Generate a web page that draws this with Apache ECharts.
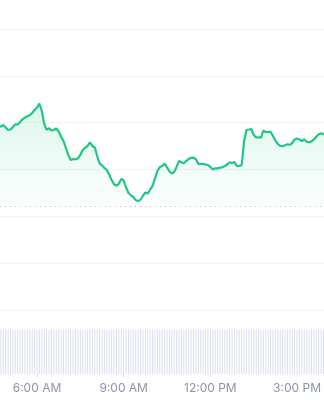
<!DOCTYPE html>
<html>
<head>
<meta charset="utf-8">
<script src="https://cdn.jsdelivr.net/npm/echarts@6/dist/echarts.min.js"></script>
<style>
html,body{margin:0;padding:0;background:#fff;}
#chart{width:324px;height:400px;}
</style>
</head>
<body>
<div id="chart"></div>
<script>
// Time of first sample (minutes after midnight) and sampling step (minutes)
const startMinute = 280;
const stepMinutes = 5;

// Price (arbitrary units; one grid line = 1 unit)
const prices = [
  3.908,3.918,3.950,3.897,3.844,3.854,3.908,3.965,3.961,4.015,
  4.072,4.106,4.138,4.158,4.207,4.271,4.324,4.405,4.249,3.972,
  3.850,3.880,3.837,3.844,3.876,3.812,3.705,3.609,3.459,3.310,
  3.203,3.224,3.218,3.235,3.310,3.417,3.466,3.502,3.577,3.502,
  3.470,3.289,3.128,3.090,3.032,2.990,2.887,2.776,2.684,2.654,
  2.695,2.797,2.765,2.616,2.498,2.449,2.413,2.345,2.328,2.353,
  2.439,2.509,2.488,2.569,2.652,2.812,2.968,3.054,3.075,3.124,
  3.047,2.958,2.915,2.951,3.060,3.182,3.150,3.135,3.186,3.224,
  3.250,3.252,3.218,3.118,3.118,3.122,3.105,3.096,3.054,3.000,
  3.026,3.026,3.039,3.047,3.075,3.107,3.156,3.139,3.160,3.069,
  3.075,3.096,3.609,3.844,3.854,3.865,3.737,3.684,3.688,3.679,
  3.833,3.797,3.801,3.807,3.716,3.620,3.545,3.502,3.498,3.519,
  3.538,3.528,3.566,3.641,3.660,3.641,3.609,3.641,3.592,3.583,
  3.600,3.641,3.705,3.752,3.773,3.752,3.748
];

// Volume (relative units)
const volumes = [
  97,96,97,96,97,97,96,97,96,97,
  97,96,97,97,96,97,96,97,97,98,
  98,97,97,96,97,97,97,96,97,97,
  97,96,97,97,97,96,97,97,97,97,
  97,96,97,97,97,97,96,97,97,97,
  96,97,97,96,97,97,97,96,97,97,
  97,96,97,97,96,97,97,97,96,97,
  97,96,97,97,96,97,97,96,97,97,
  96,97,97,96,97,97,96,97,96,97,
  97,96,97,96,97,96,97,96,97,96,
  97,96,97,97,96,97,96,97,96,97,
  96,97,96,97,96,96,97,96,97,96,
  96,97,96,96,97,96,96,97,96,96,
  97,96,96,96,97,96,96
];

// Opening reference price (dotted line)
const openPrice = 2.206;

// X tick labels (minutes after midnight) and their texts
const tickMinutes = [360, 540, 720, 900];
const tickLabels = ['6:00 AM', '9:00 AM', '12:00 PM', '3:00 PM'];

// Visible time window
const xMin = 283.2;
const xMax = 955.9;

const times = prices.map((_, i) => startMinute + i * stepMinutes);
const priceData = prices.map((v, i) => [times[i], v]);
const volumeData = volumes.map((v, i) => [times[i], v]);

const chart = echarts.init(document.getElementById('chart'), null, {renderer: 'canvas'});
chart.setOption({
  animation: false,
  backgroundColor: '#ffffff',
  textStyle: {fontFamily: 'Inter, sans-serif'},
  grid: [
    {left: 0, right: 0, top: 29, height: 281},
    {left: 0, right: 0, top: 328, bottom: 26}
  ],
  xAxis: [
    {type: 'value', gridIndex: 0, min: xMin, max: xMax, show: false},
    {
      type: 'value', gridIndex: 1, min: xMin, max: xMax,
      splitLine: {show: false},
      axisLine: {show: false},
      axisTick: {show: true, customValues: tickMinutes, length: 3, lineStyle: {color: '#e3e6ec'}},
      axisLabel: {
        customValues: tickMinutes,
        color: '#8c94a5', fontSize: 12, margin: 8,
        fontFamily: 'Inter, sans-serif',
        formatter: v => tickLabels[tickMinutes.indexOf(v)] || ''
      }
    }
  ],
  yAxis: [
    {
      type: 'value', gridIndex: 0, min: 0, max: 6, interval: 1,
      axisLabel: {show: false}, axisLine: {show: false}, axisTick: {show: false},
      splitLine: {show: true, lineStyle: {color: '#f1f2f5', width: 1}}
    },
    {
      type: 'value', gridIndex: 1, min: 0, max: 100,
      show: false, splitLine: {show: false}
    }
  ],
  series: [
    {
      type: 'line', xAxisIndex: 0, yAxisIndex: 0,
      data: priceData, showSymbol: false, clip: true,
      lineStyle: {color: '#1ec784', width: 2.2},
      areaStyle: {
        origin: openPrice,
        color: new echarts.graphic.LinearGradient(0, 0, 0, 1, [
          {offset: 0, color: 'rgba(30,199,132,0.22)'},
          {offset: 1, color: 'rgba(30,199,132,0.01)'}
        ])
      },
      markLine: {
        silent: true, symbol: 'none', label: {show: false},
        lineStyle: {color: '#b6bcc8', type: [1, 4], width: 1},
        data: [{yAxis: openPrice}]
      },
      z: 3
    },
    {
      type: 'bar', xAxisIndex: 1, yAxisIndex: 1,
      data: volumeData, barWidth: 1,
      itemStyle: {color: '#d9dfea'}
    }
  ]
});
</script>
</body>
</html>
